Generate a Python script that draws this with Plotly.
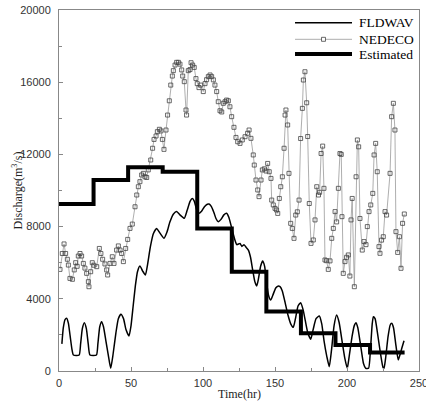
import plotly.graph_objects as go

# FLDWAV (computed) discharge
fld_t = [2.0, 3.0, 4.2, 5.3, 6.5, 7.8, 9.0, 10.0, 14.0, 15.0, 16.2, 17.6, 19.0, 20.3, 21.5, 26.0, 27.0, 28.3,
         29.6, 30.9, 32.5, 34.2, 35.9, 37.5, 39.5, 41.2, 43.0, 44.8, 46.5, 48.6, 50.0, 51.5, 53.0, 54.5,
         56.2, 58.0, 60.0, 61.5, 63.5, 65.5, 67.8, 70.0, 72.9, 75.0, 77.0, 79.5, 81.7, 84.0, 87.0, 89.0,
         91.0, 92.6, 94.0, 95.5, 97.2, 99.0, 101.0, 103.0, 104.2, 105.5, 107.5, 109.0, 110.6, 112.5, 114.5,
         116.4, 118.0, 120.0, 122.0, 123.5, 125.7, 127.0, 128.5, 130.0, 131.5, 133.0, 134.5, 136.0, 137.3,
         138.5, 140.0, 141.4, 142.8, 144.0, 145.5, 147.0, 148.5, 150.5, 152.0, 153.5, 155.0, 157.0, 159.0,
         161.0, 162.7, 164.2, 166.0, 167.8, 169.5, 171.0, 172.8, 174.8, 176.5, 178.5, 180.8, 182.5, 184.0,
         186.0, 187.7, 189.3, 191.0, 192.8, 194.5, 196.5, 198.5, 200.2, 201.5, 203.5, 205.0, 206.3, 207.5,
         209.5, 211.5, 213.0, 215.0, 216.3, 217.5, 218.3, 219.5, 221.0, 223.0, 225.0, 225.7, 226.8, 228.5,
         230.0, 231.0, 232.3, 234.0, 235.6, 236.8, 238.2, 239.6]
fld_q = [1500, 2400, 2850, 2920, 2650, 1900, 1200, 886, 886, 1500, 2350, 2680, 2350, 1500, 886, 886, 1500, 2450,
         2730, 2450, 1700, 900, 150, 900, 2100, 2900, 3140, 2900, 2300, 1940, 2500, 3600, 4700, 5500,
         5820, 5550, 5320, 5900, 6900, 7600, 7900, 7650, 7350, 7700, 8250, 8700, 8830, 8650, 8460, 8900,
         9400, 9560, 9400, 8950, 8740, 8850, 9100, 9240, 9250, 9150, 8800, 8450, 8270, 8400, 8650,
         8740, 8500, 7900, 7300, 7000, 7070, 6900, 7000, 6850, 6700, 6300, 5600, 4950, 4710,
         5100, 5800, 6090, 5800, 5000, 4200, 3930, 4200, 4600, 4700, 4670, 4450, 3800, 3100,
         2600, 2420, 2900, 3600, 3780, 3400, 2800, 2100, 1760, 2300, 2900, 3050, 2600, 1700,
         800, 240, 1200, 2500, 3100, 2700, 1700, 700, 150, 800, 1900, 2500, 2680, 2400,
         1400, 400, 150, 150, 1200, 2600, 3010, 2900, 2200, 1100, 200, 150, 700, 1900,
         2550, 2640, 2400, 1400, 610, 900, 1300, 1680]

# NEDECO (observed) discharge
ned_t = [0.7, 2.3, 3.5, 4.6, 5.8, 6.5, 7.6, 9.3, 10.6, 11.6, 12.6, 13.4, 14.6, 15.7, 16.9, 18.0, 19.2, 20.4,
         20.8, 22.0, 23.1, 24.2, 26.2, 28.0, 29.1, 30.3, 31.9, 33.1, 33.8, 35.4, 37.0, 38.2, 40.0, 41.2,
         42.4, 43.5, 44.7, 46.3, 47.7, 49.3, 50.9, 52.8, 54.0, 55.1, 56.2, 57.4, 58.6, 59.7, 60.9, 62.0,
         63.7, 65.0, 66.0, 67.4, 68.3, 69.7, 70.8, 71.8, 72.9, 74.3, 75.4, 76.6, 77.6, 78.7, 79.4, 80.6,
         81.7, 82.9, 84.0, 85.2, 85.9, 87.0, 88.2, 88.6, 89.8, 91.0, 91.7, 92.8, 93.9, 95.1, 96.0, 97.2,
         98.4, 100.2, 101.4, 102.5, 103.7, 104.9, 106.0, 107.2, 108.3, 109.5, 110.6, 111.8, 113.0, 114.1,
         115.3, 116.4, 117.6, 118.7, 119.9, 121.5, 122.9, 124.1, 125.7, 127.3, 129.2, 131.0, 132.0, 133.3,
         134.9, 135.6, 136.8, 138.0, 138.9, 140.3, 141.2, 142.6, 143.8, 144.9, 146.0, 147.2, 147.7, 148.8,
         150.0, 151.1, 151.9, 153.0, 154.0, 155.1, 156.3, 157.0, 157.6, 158.8, 159.7, 160.9, 162.0, 163.2,
         164.4, 165.5, 166.7, 167.8, 169.0, 169.7, 170.8, 172.0, 172.7, 173.8, 175.0, 176.6, 177.8, 179.0,
         180.2, 181.0, 182.0, 183.1, 184.0, 184.7, 185.8, 187.0, 188.2, 189.4, 190.5, 191.7, 192.8, 194.0,
         195.1, 196.0, 196.5, 197.4, 198.6, 199.7, 200.9, 202.0, 202.8, 203.6, 205.1, 206.3, 207.2, 208.1,
         209.0, 210.6, 211.8, 213.2, 214.1, 215.3, 216.5, 217.9, 218.8, 219.9, 221.0, 222.2, 222.9, 224.0,
         225.2, 226.4, 227.5, 229.9, 231.0, 232.2, 233.3, 234.0, 235.2, 236.4, 237.5, 238.6, 239.8]
ned_q = [5630, 6510, 7040, 6510, 6190, 5870, 5130, 5080, 5600, 6000, 5800, 6370, 6510, 6370, 5960, 5700, 5410, 4950,
         4670, 5500, 6000, 5860, 5780, 6790, 6510, 6190, 5930, 5600, 5320, 5960, 6330, 5960, 6700, 6930,
         6700, 6510, 6060, 6790, 7290, 7900, 8140, 9100, 9750, 10210, 10490, 10860, 10950, 10760, 10720, 11140,
         11690, 12340, 12830, 13020, 13260, 13390, 13300, 12830, 12280, 13350, 14180, 14970, 15840, 16340, 16640, 16950,
         17100, 17100, 17000, 16680, 16340, 16030, 14460, 14180, 16640, 16700, 17080, 16950, 16820, 16200, 15920, 15700,
         15840, 15480, 15920, 16140, 16310, 16400, 16310, 16130, 15840, 15480, 14920, 14420, 14350, 14830,
         14920, 15010, 14970, 14640, 14090, 13500, 12940, 12700, 12610, 12800, 12980, 13170, 13350, 12890,
         11970, 11410, 10580, 10030, 9660, 10580, 11140, 11200, 11080, 11500, 11040, 10670, 9470, 9200,
         9010, 8920, 8730, 9560, 10210, 10760, 12340, 14180, 14460, 13630, 10950, 8180, 7900, 7350,
         8640, 8820, 9470, 12880, 14550, 16120, 16580, 14860, 12990, 9280, 7070, 7260, 8370, 10210,
         9750, 9900, 12050, 12460, 10120, 6150, 6110, 5630, 6100, 7350, 7900, 8830, 8260, 10120,
         12050, 12000, 8550, 5410, 6060, 6300, 6430, 5260, 8370, 9560, 4670, 10760, 12800, 12420,
         8450, 6700, 7170, 7000, 8000, 8830, 9200, 9840, 11970, 12610, 11040, 6890, 6520, 7250,
         7440, 8830, 8640, 10950, 14090, 14830, 13350, 7720, 6570, 7440, 5690, 8180, 8700]

# Estimated daily discharge (step)
est_t = [0, 24, 48, 72, 96, 120, 144, 168, 192, 216, 240]
est_q = [9250, 10580, 11290, 11040, 7900, 5500, 3290, 2090, 1440, 1030, 1030]

x_ticks = [0, 50, 100, 150, 200, 250]
y_ticks = [0, 4000, 8000, 12000, 16000, 20000]
legend_names = ["FLDWAV", "NEDECO", "Estimated"]

SERIF = "Liberation Serif, Times New Roman, serif"

fig = go.Figure()
fig.add_trace(go.Scatter(x=fld_t, y=fld_q, mode="lines", name=legend_names[0],
                         line=dict(color="black", width=1.5, shape="spline", smoothing=0.5)))
fig.add_trace(go.Scatter(x=ned_t, y=ned_q, mode="lines+markers", name=legend_names[1],
                         line=dict(color="#999999", width=0.8),
                         marker=dict(symbol="square-open", size=4, color="#444444",
                                     line=dict(width=0.8, color="#444444"))))
fig.add_trace(go.Scatter(x=est_t, y=est_q, mode="lines", name=legend_names[2],
                         line=dict(color="black", width=4, shape="hv")))

axis_common = dict(showgrid=False, zeroline=False, showline=True, linecolor="#888888", linewidth=1,
                   mirror=True, ticks="inside", ticklen=4, tickcolor="#888888", automargin=False,
                   ticklabeloverflow="allow",
                   tickfont=dict(family="Liberation Sans, Arial", size=11, color="#333333"))
fig.update_xaxes(range=[0, 250], tickvals=x_ticks, ticktext=[str(v) for v in x_ticks],
                 minor=dict(ticks="inside", ticklen=3, dtick=25, tickcolor="#888888"),
                 ticklabelstandoff=2, **axis_common)
fig.update_yaxes(range=[0, 20000], tickvals=y_ticks, ticktext=[str(v) for v in y_ticks],
                 minor=dict(ticks="inside", ticklen=3, dtick=2000, tickcolor="#888888"),
                 ticklabelstandoff=5, **axis_common)

# axis titles
annotations = [
    dict(text="Time(hr)", xref="paper", yref="paper", x=0.5, y=-0.065, xanchor="center", yanchor="middle",
         showarrow=False, font=dict(family=SERIF, size=12, color="#222222")),
    dict(text="Discharge(m<sup>3</sup>/s)", xref="paper", yref="paper", x=-0.114, y=0.5, textangle=-90,
         xanchor="center", yanchor="middle", showarrow=False, font=dict(family=SERIF, size=12, color="#222222")),
]

# manual legend (paper coordinates)
leg_x0, leg_x1, leg_tx = 0.6556, 0.8139, 0.8278
leg_rows = [0.9648, 0.9188, 0.8781]
leg_styles = [dict(color="black", width=1.5), dict(color="#999999", width=0.8), dict(color="black", width=4)]
shapes = []
for name, yy, st in zip(legend_names, leg_rows, leg_styles):
    shapes.append(dict(type="line", xref="paper", yref="paper", x0=leg_x0, x1=leg_x1, y0=yy, y1=yy, line=st))
    annotations.append(dict(text=name, xref="paper", yref="paper", x=leg_tx, y=yy, xanchor="left",
                            yanchor="middle", showarrow=False,
                            font=dict(family=SERIF, size=13.5, color="black")))
mx = (leg_x0 + leg_x1) / 2
shapes.append(dict(type="rect", xref="paper", yref="paper", x0=mx - 0.0055, x1=mx + 0.0055,
                   y0=leg_rows[1] - 0.0055, y1=leg_rows[1] + 0.0055,
                   line=dict(color="#444444", width=0.8), fillcolor="white"))

fig.update_layout(
    width=426, height=406,
    margin=dict(l=59, r=7, t=10, b=35),
    paper_bgcolor="white", plot_bgcolor="white",
    showlegend=False,
    annotations=annotations,
    shapes=shapes,
)

fig.write_html("out.html", config={"displayModeBar": False},
               post_script="document.body.style.margin='0';document.body.style.padding='0';")
